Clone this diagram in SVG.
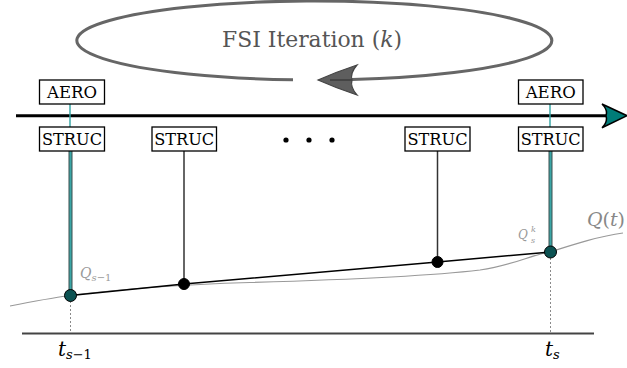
<svg xmlns="http://www.w3.org/2000/svg" width="627" height="368" viewBox="0 0 627 368">
  <style>
    text { font-family: "DejaVu Serif", "Liberation Serif", serif; }
    .box { fill: #fff; stroke: #000; stroke-width: 1.3; }
    .lbl { font-size: 16px; fill: #000; text-anchor: middle; }
    .math { font-style: italic; }
    .stem { stroke: #333; stroke-width: 1.5; fill: none; }
    .cpl-outer { stroke: #3d4f4f; stroke-width: 4; fill: none; }
    .cpl-inner { stroke: #3aa6a6; stroke-width: 2; fill: none; }
    .link { stroke: #2fa3a3; stroke-width: 1.4; fill: none; }
    .dash { stroke: #8a8a8a; stroke-width: 1; stroke-dasharray: 2 2; fill: none; }
    .dot { fill: #000; stroke: #000; stroke-width: 1; }
    .dot-c { fill: #0c5252; stroke: #000; stroke-width: 1; }
  </style>

  <!-- FSI iteration loop -->
  <g id="loop">
    <path d="M293,79.84 A237.5,39.5 0 1 1 352,79.5" fill="none" stroke="#666" stroke-width="3"/>
    <path d="M318,80 Q336,72 357,65 Q350,73 352,80 Q350,87 357,95 Q336,88 318,80 Z" fill="#5e5e5e" stroke="#444" stroke-width="1.2"/>
    <line x1="330" y1="80" x2="352" y2="80" stroke="#444" stroke-width="2"/>
    <text x="222" y="47" font-size="22" fill="#555" textLength="180" lengthAdjust="spacingAndGlyphs">FSI Iteration (<tspan font-style="italic">k</tspan>)</text>
  </g>

  <!-- connectors -->
  <g id="connectors">
    <!-- time axis with arrow -->
    <line x1="16" y1="115.7" x2="606" y2="115.7" stroke="#000" stroke-width="3"/>
    <path d="M627,115.7 L602,104 Q608,110 606,115.7 Q608,122 602,127.7 Z" fill="#007c78" stroke="#000" stroke-width="1.5"/>

    <!-- coupling at t_{s-1} -->
    <line class="link" x1="70" y1="104" x2="70" y2="127"/>
    <line class="cpl-outer" x1="70.5" y1="151" x2="70.5" y2="295"/>
    <line class="cpl-inner" x1="70.5" y1="151" x2="70.5" y2="295"/>
    <line class="dash" x1="70.5" y1="301" x2="70.5" y2="333"/>

    <!-- intermediate structural steps -->
    <line class="stem" x1="184" y1="151" x2="184" y2="284"/>
    <line class="stem" x1="437.5" y1="151" x2="437.5" y2="262"/>

    <!-- coupling at t_s -->
    <line class="link" x1="550" y1="104" x2="550" y2="127"/>
    <line class="cpl-outer" x1="550.5" y1="151" x2="550.5" y2="252"/>
    <line class="cpl-inner" x1="550.5" y1="151" x2="550.5" y2="252"/>
    <line class="dash" x1="550.5" y1="258" x2="550.5" y2="333"/>

    <!-- exact solution Q(t) -->
    <path d="M10,306 C35,301 55,297.5 70,295.5 C120,289 180,284.5 250,282.5 C320,280.5 430,276 480,270 C515,265 530,255 550,252 C575,244 600,236 623,233" fill="none" stroke="#999" stroke-width="1.2"/>
    <!-- piecewise structural solution -->
    <polyline points="70.5,295.5 184,284 437.5,262 550.5,252" fill="none" stroke="#000" stroke-width="1.5"/>

    <!-- lower time axis -->
    <line x1="22" y1="333.5" x2="594" y2="333.5" stroke="#444" stroke-width="2"/>
  </g>

  <!-- nodes -->
  <g id="aero-1">
    <rect class="box" x="39.5" y="80" width="65" height="24"/>
    <text class="lbl" x="72" y="98" textLength="50" lengthAdjust="spacingAndGlyphs">AERO</text>
  </g>
  <g id="struc-1">
    <rect class="box" x="39.5" y="127" width="65" height="24"/>
    <text class="lbl" x="72" y="145" textLength="60" lengthAdjust="spacingAndGlyphs">STRUC</text>
  </g>
  <g id="struc-2">
    <rect class="box" x="152" y="127" width="64.5" height="24"/>
    <text class="lbl" x="184.2" y="145" textLength="60" lengthAdjust="spacingAndGlyphs">STRUC</text>
  </g>
  <g id="ellipsis">
    <circle cx="286" cy="140" r="2.6" fill="#000"/>
    <circle cx="309" cy="140" r="2.6" fill="#000"/>
    <circle cx="332" cy="140" r="2.6" fill="#000"/>
  </g>
  <g id="struc-3">
    <rect class="box" x="405" y="127" width="65" height="24"/>
    <text class="lbl" x="437.5" y="145" textLength="60" lengthAdjust="spacingAndGlyphs">STRUC</text>
  </g>
  <g id="aero-2">
    <rect class="box" x="518.5" y="80" width="64.5" height="24"/>
    <text class="lbl" x="550.7" y="98" textLength="50" lengthAdjust="spacingAndGlyphs">AERO</text>
  </g>
  <g id="struc-4">
    <rect class="box" x="518.5" y="127" width="64.5" height="24"/>
    <text class="lbl" x="550.7" y="145" textLength="60" lengthAdjust="spacingAndGlyphs">STRUC</text>
  </g>

  <!-- solution points -->
  <g id="pt-s-1">
    <circle class="dot-c" cx="70.5" cy="295.5" r="6"/>
    <text class="math" x="80" y="278" font-size="14" fill="#999">Q<tspan font-size="10" dy="3">s</tspan><tspan font-style="normal" font-size="10">−1</tspan></text>
  </g>
  <g id="pt-mid-1">
    <circle class="dot" cx="184" cy="284" r="5.5"/>
  </g>
  <g id="pt-mid-2">
    <circle class="dot" cx="437.5" cy="262" r="5.5"/>
  </g>
  <g id="pt-s">
    <circle class="dot-c" cx="550.5" cy="252" r="6"/>
    <text class="math" x="518" y="239" font-size="12" fill="#999">Q</text>
    <text class="math" x="531" y="232" font-size="8" fill="#999">k</text>
    <text class="math" x="531" y="243" font-size="8" fill="#999">s</text>
  </g>
  <g id="q-label">
    <text class="math" x="587" y="226" font-size="19" fill="#888" textLength="38" lengthAdjust="spacingAndGlyphs">Q<tspan font-style="normal">(</tspan>t<tspan font-style="normal">)</tspan></text>
  </g>

  <!-- time labels -->
  <g id="t-s-1">
    <text class="math" x="58" y="356" font-size="20" fill="#000">t<tspan font-size="13" dy="3">s</tspan><tspan font-style="normal" font-size="13">−1</tspan></text>
  </g>
  <g id="t-s">
    <text class="math" x="545" y="356" font-size="20" fill="#000">t<tspan font-size="13" dy="3">s</tspan></text>
  </g>
</svg>
